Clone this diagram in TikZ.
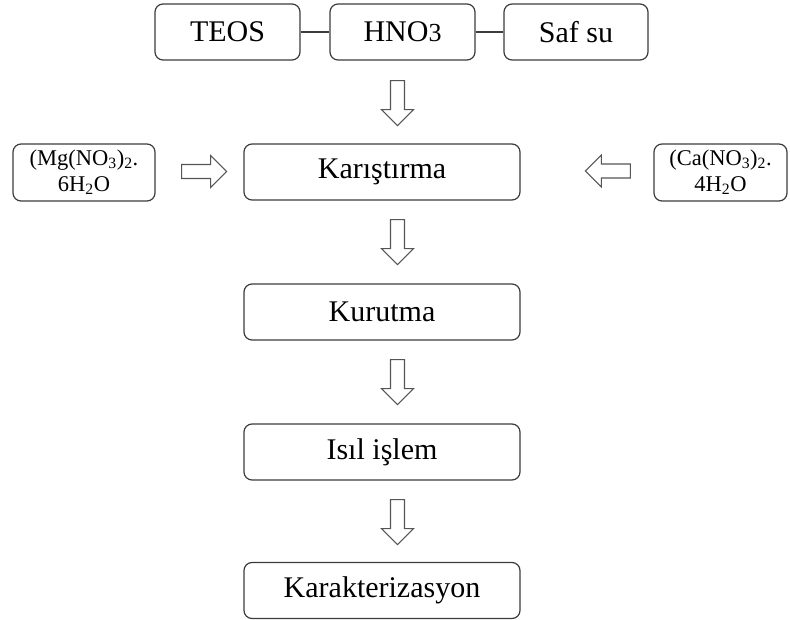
\documentclass[tikz,border=0pt]{standalone}
\usepackage{fontspec}
\setmainfont{Liberation Serif}
\usetikzlibrary{calc}
\definecolor{boxgray}{RGB}{60,60,60}
\definecolor{arrowgray}{RGB}{85,85,85}
\begin{document}
\begin{tikzpicture}[x=1pt,y=-1pt,
  stepbox/.style={draw=boxgray, line width=1.2pt, rounded corners=8pt, inner sep=0pt,
    minimum height=56pt, font=\fontsize{30}{32}\selectfont, text=black},
  wide/.style={stepbox, minimum width=276pt},
  smallbox/.style={stepbox, minimum height=57pt, align=center,
    font=\fontsize{22.5}{26}\selectfont},
  link/.style={draw=boxgray, line width=1.2pt},
  arrowline/.style={draw=arrowgray, line width=1.1pt, fill=white, line join=miter},
  blockarrow/.pic={\draw[arrowline] (0,-7) -- (29,-7) -- (29,-16) -- (45,0)
      -- (29,16) -- (29,7) -- (0,7) -- cycle;}
]
\useasboundingbox (0,0) rectangle (790,620);

% starting materials
\node[stepbox, minimum width=145pt] (teos) at (227.5,32) {TEOS};
\node[stepbox, minimum width=145pt] (hno)  at (402.5,32) {HNO{\fontsize{26}{28}\selectfont 3}};
\node[stepbox, minimum width=144pt] (saf)  at (576,32)   {Saf su};
\draw[link] (teos) -- (hno);
\draw[link] (hno) -- (saf);

% process steps
\node[wide] (kar)  at (382,172)   {Karıştırma};
\node[wide] (kur)  at (382,312)   {Kurutma};
\node[wide] (isil) at (382,452)   {Isıl işlem};
\node[wide] (krk)  at (382,590.5) {Karakterizasyon};

% side additions
\node[smallbox, minimum width=142pt] (mg) at (84,172.5)
  {(Mg(NO\textsubscript{3})\textsubscript{2}.\\6H\textsubscript{2}O};
\node[smallbox, minimum width=133pt] (ca) at (720.5,172.5)
  {(Ca(NO\textsubscript{3})\textsubscript{2}.\\4H\textsubscript{2}O};

% block arrows
\pic[rotate=-90] at ($(hno.south)+(-5,20)$) {blockarrow};
\pic[rotate=-90] at ($(kar.south)+(15.5,19)$) {blockarrow};
\pic[rotate=-90] at ($(kur.south)+(15.5,19)$) {blockarrow};
\pic[rotate=-90] at ($(isil.south)+(15.5,19)$) {blockarrow};
\pic at ($(mg.east)+(26,-1)$) {blockarrow};
\pic[rotate=180] at ($(ca.west)+(-23,-1.5)$) {blockarrow};
\end{tikzpicture}
\end{document}
